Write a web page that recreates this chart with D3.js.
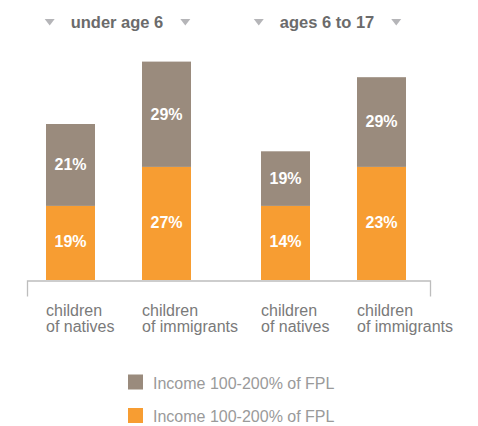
<!DOCTYPE html>
<html>
<head>
<meta charset="utf-8">
<script src="https://cdn.jsdelivr.net/npm/d3@7/dist/d3.min.js"></script>
<style>
  html, body { margin: 0; padding: 0; background: #fff; }
  svg { display: block; font-family: "Liberation Sans", Arial, Helvetica, sans-serif; }
</style>
</head>
<body>
<svg id="chart" width="478" height="426"></svg>
<script>
// ---- data ----
const groups = ["under age 6", "ages 6 to 17"];
const subgroups = ["natives", "immigrants"];
const categoryLines = [["children", "of natives"], ["children", "of immigrants"]];
// segment heights as drawn in the picture (percent)
const orangeValues = [19, 29, 19, 29];
const grayValues = [21, 27, 14, 23];
// printed labels
const orangeLabels = ["19%", "27%", "14%", "23%"];
const grayLabels = ["21%", "29%", "19%", "29%"];
const legendLabels = ["Income 100-200% of FPL", "Income 100-200% of FPL"];

const GRAY = "#9a8b7d", ORANGE = "#f79d32";

const svg = d3.select("#chart");

const xGroup = d3.scaleBand().domain(groups).range([46, 406]).paddingInner(70 / 215).paddingOuter(0);
const xSub = d3.scaleBand().domain(subgroups).range([0, xGroup.bandwidth()]).paddingInner(47 / 96).paddingOuter(0);
const y = d3.scaleLinear().domain([0, 60]).range([280, 46]);

const bars = [];
groups.forEach((g, gi) => subgroups.forEach((s, si) => {
  const i = gi * 2 + si;
  bars.push({ g, s, si, i, o: orangeValues[i], gr: grayValues[i], ol: orangeLabels[i], gl: grayLabels[i] });
}));

const bx = d => xGroup(d.g) + xSub(d.s);
const bw = xSub.bandwidth();

// orange segments
svg.append("g").selectAll("rect").data(bars).join("rect")
  .attr("x", bx).attr("width", bw)
  .attr("y", d => y(d.o)).attr("height", d => y(0) - y(d.o))
  .attr("fill", ORANGE);
// gray segments
svg.append("g").selectAll("rect").data(bars).join("rect")
  .attr("x", bx).attr("width", bw)
  .attr("y", d => y(d.o + d.gr)).attr("height", d => y(d.o) - y(d.o + d.gr))
  .attr("fill", GRAY);

// value labels
const lab = svg.append("g").attr("fill", "#fff").attr("font-weight", "bold")
  .attr("font-size", 16).attr("text-anchor", "middle");
lab.selectAll("text.o").data(bars).join("text").attr("class", "o")
  .attr("x", d => bx(d) + bw / 2)
  .attr("y", d => (y(0) + y(d.o)) / 2 - 1.5).attr("dy", "0.36em")
  .text(d => d.ol);
lab.selectAll("text.g").data(bars).join("text").attr("class", "g")
  .attr("x", d => bx(d) + bw / 2)
  .attr("y", d => (y(d.o) + y(d.o + d.gr)) / 2 - 0.5).attr("dy", "0.36em")
  .text(d => d.gl);

// axis bracket
const xAxisScale = d3.scaleLinear().range([27, 430]);
const axisG = svg.append("g").attr("transform", `translate(0,${y(0) + 0.5})`)
  .call(d3.axisBottom(xAxisScale).ticks(0).tickSizeOuter(16));
axisG.select(".domain").attr("stroke", "#bdbdbd").attr("stroke-width", 1.3);

// category labels
const cat = svg.append("g").attr("fill", "#7a7a7a").attr("font-size", 16);
bars.forEach(d => {
  const t = cat.append("text").attr("x", bx(d)).attr("y", 315.5);
  categoryLines[d.si].forEach((line, li) => {
    t.append("tspan").attr("x", bx(d)).attr("dy", li === 0 ? 0 : 16).text(line);
  });
});

// group titles with triangles
groups.forEach(g => {
  const cx = xGroup(g) + xGroup.bandwidth() / 2 - (g === groups[0] ? 1.5 : 6.5);
  const gg = svg.append("g");
  const t = gg.append("text").attr("x", cx).attr("y", 27.5).attr("text-anchor", "middle")
    .attr("font-weight", "bold").attr("font-size", 16.5).attr("fill", "#6b6b6b").text(g);
  const w = t.node().getComputedTextLength();
  [cx - w / 2 - 21, cx + w / 2 + 22].forEach(tx => {
    gg.append("path").attr("d", `M${tx - 5},19 L${tx + 5},19 L${tx},25.5 Z`).attr("fill", "#b5b5b8");
  });
});

// legend
const legColors = [GRAY, ORANGE];
const leg = svg.append("g");
legendLabels.forEach((l, i) => {
  const yy = 374.5 + i * 33.5;
  leg.append("rect").attr("x", 128).attr("y", yy).attr("width", 15).attr("height", 15).attr("fill", legColors[i]);
  leg.append("text").attr("x", 153).attr("y", yy + 14).attr("font-size", 16).attr("fill", "#9a9a9a").text(l);
});
</script>
</body>
</html>
